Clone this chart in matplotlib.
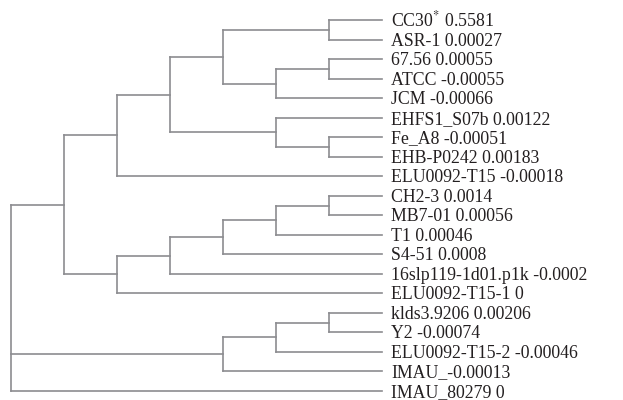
import matplotlib.pyplot as plt

plt.rcParams['font.family'] = ['Liberation Serif', 'DejaVu Serif']
plt.rcParams['mathtext.fontset'] = 'stix'

# strain names and values, top to bottom
strains = ['CC30$^{*}$', 'ASR-1', '67.56', 'ATCC', 'JCM', 'EHFS1_S07b', 'Fe_A8',
           'EHB-P0242', 'ELU0092-T15', 'CH2-3', 'MB7-01', 'T1', 'S4-51',
           '16slp119-1d01.p1k', 'ELU0092-T15-1', 'klds3.9206', 'Y2',
           'ELU0092-T15-2', 'IMAU_', 'IMAU_80279']
values = ['0.5581', '0.00027', '0.00055', '-0.00055', '-0.00066', '0.00122',
          '-0.00051', '0.00183', '-0.00018', '0.0014', '0.00056', '0.00046',
          '0.0008', '-0.0002', '0', '0.00206', '-0.00074', '-0.00046',
          '-0.00013', '0']

# tree topology, leaves given by index into strains
upper = ((((0, 1), ((2, 3), 4)), (5, (6, 7))), 8)
middle = (((((9, 10), 11), 12), 13), 14)
lower = (((15, 16), 17), 18)
tree = ((upper, middle), lower, 19)

line_color = '#8c8c90'
text_color = '#231f20'


def height(node):
    if isinstance(node, int):
        return 0
    return 1 + max(height(c) for c in node)


def layout(node, depth_total, segs):
    """Return (x, y) of node and collect line segments."""
    if isinstance(node, int):
        return depth_total, node
    pts = [layout(c, depth_total, segs) for c in node]
    x = depth_total - height(node)
    y = (pts[0][1] + pts[-1][1]) / 2
    segs.append(([x, x], [pts[0][1], pts[-1][1]]))
    for cx, cy in pts:
        segs.append(([x, cx], [cy, cy]))
    return x, y


total = height(tree)
segs = []
layout(tree, total, segs)

fig = plt.figure(figsize=(6.23, 4), dpi=100)
ax = fig.add_axes([0, 0, 1, 1])
for xs, ys in segs:
    ax.plot(xs, ys, color=line_color, lw=1.2, solid_capstyle='projecting')

for i, (name, val) in enumerate(zip(strains, values)):
    sep = '' if name.endswith('_') else ' '
    ax.text(total + 0.17, i + 0.31, name + sep + val, fontsize=12.8,
            color=text_color, va='baseline', ha='left')

ax.set_xlim(-11 / 53, 612 / 53)
ax.set_ylim(19.47, -1.041)
ax.axis('off')

fig.savefig('out.png', dpi=100)
